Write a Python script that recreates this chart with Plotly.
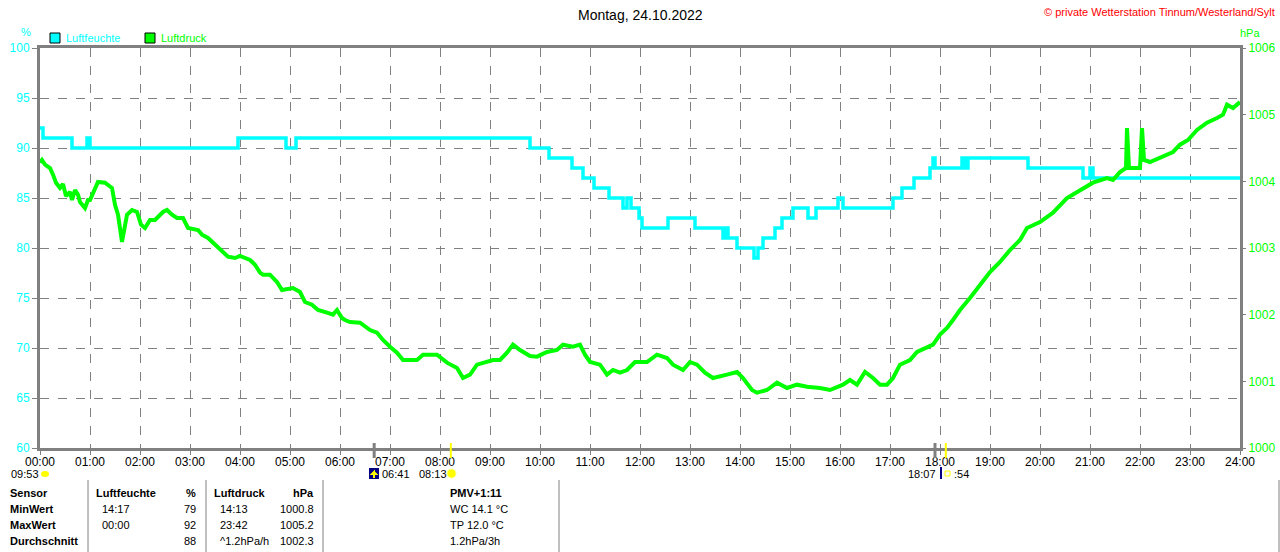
import plotly.graph_objects as go

# Luftfeuchte (%), stepped values: hour of day / value
hum_t = [0.00, 0.06, 0.64, 0.94, 1.00, 3.96, 4.92, 5.12, 9.80, 10.18, 10.64, 10.86,
         11.08, 11.38, 11.66, 11.74, 11.82, 11.98, 12.04, 12.56, 13.10, 13.66, 13.70,
         13.76, 13.94, 14.28, 14.36, 14.46, 14.70, 14.84, 15.06, 15.36, 15.52, 15.96,
         16.06, 17.06, 17.24, 17.48, 17.80, 17.86, 17.90, 18.44, 18.50, 18.56, 19.76,
         20.86, 21.00, 21.06, 24.00]
hum_v = [92, 91, 90, 91, 90, 91, 90, 91, 90, 89, 88, 87,
         86, 85, 84, 85, 84, 83, 82, 83, 82, 81, 82,
         81, 80, 79, 80, 81, 82, 83, 84, 83, 84, 85,
         84, 85, 86, 87, 88, 89, 88, 89, 88, 89, 88,
         87, 88, 87, 87]

# Luftdruck (hPa)
p_t = [0.00, 0.04, 0.10, 0.20, 0.26, 0.32, 0.40, 0.46, 0.52, 0.60, 0.64, 0.70, 0.76,
       0.80, 0.90, 0.96, 1.00, 1.10, 1.16, 1.30, 1.44, 1.50, 1.56, 1.64, 1.74, 1.84,
       1.94, 2.02, 2.10, 2.20, 2.30, 2.46, 2.54, 2.64, 2.74, 2.86, 2.96, 3.16, 3.24,
       3.36, 3.50, 3.64, 3.76, 3.90, 4.00, 4.20, 4.30, 4.40, 4.46, 4.60, 4.74, 4.84,
       5.06, 5.20, 5.30, 5.44, 5.56, 5.74, 5.86, 5.94, 6.04, 6.10, 6.20, 6.40, 6.60,
       6.74, 6.86, 7.00, 7.14, 7.26, 7.54, 7.66, 7.94, 8.14, 8.34, 8.46, 8.60, 8.74,
       8.94, 9.06, 9.20, 9.34, 9.46, 9.60, 9.80, 9.94, 10.14, 10.34, 10.46, 10.66,
       10.80, 10.90, 11.00, 11.20, 11.34, 11.46, 11.60, 11.74, 11.90, 12.14, 12.34,
       12.54, 12.66, 12.86, 13.00, 13.14, 13.30, 13.46, 13.74, 13.94, 14.06, 14.24,
       14.34, 14.54, 14.74, 14.94, 15.14, 15.34, 15.60, 15.80, 16.06, 16.20, 16.34,
       16.50, 16.66, 16.80, 16.94, 17.06, 17.20, 17.40, 17.54, 17.74, 17.86, 18.00,
       18.14, 18.26, 18.40, 18.60, 18.80, 19.00, 19.20, 19.40, 19.60, 19.74, 20.00,
       20.26, 20.54, 20.80, 21.06, 21.34, 21.46, 21.60, 21.72, 21.74, 21.78, 21.90,
       22.00, 22.04, 22.08, 22.20, 22.40, 22.66, 22.80, 22.96, 23.14, 23.34, 23.54,
       23.66, 23.74, 23.86, 24.00]
p_v = [1004.28, 1004.32, 1004.25, 1004.20, 1004.10, 1003.98, 1003.90, 1003.96, 1003.78,
       1003.84, 1003.72, 1003.87, 1003.80, 1003.69, 1003.60, 1003.72, 1003.72, 1003.87,
       1003.99, 1003.98, 1003.90, 1003.65, 1003.50, 1003.09, 1003.50, 1003.57, 1003.54,
       1003.35, 1003.30, 1003.42, 1003.42, 1003.54, 1003.57, 1003.50, 1003.45, 1003.45,
       1003.30, 1003.27, 1003.20, 1003.15, 1003.05, 1002.97, 1002.87, 1002.85, 1002.88,
       1002.82, 1002.75, 1002.63, 1002.60, 1002.60, 1002.49, 1002.37, 1002.40, 1002.34,
       1002.19, 1002.15, 1002.07, 1002.03, 1002.00, 1002.07, 1001.95, 1001.92, 1001.89,
       1001.88, 1001.77, 1001.73, 1001.62, 1001.52, 1001.43, 1001.32, 1001.32, 1001.40,
       1001.40, 1001.28, 1001.20, 1001.05, 1001.10, 1001.25, 1001.29, 1001.32, 1001.32,
       1001.43, 1001.55, 1001.47, 1001.38, 1001.37, 1001.44, 1001.47, 1001.55, 1001.52,
       1001.55, 1001.40, 1001.29, 1001.25, 1001.10, 1001.17, 1001.13, 1001.17, 1001.29,
       1001.29, 1001.40, 1001.35, 1001.25, 1001.17, 1001.29, 1001.25, 1001.13, 1001.05,
       1001.10, 1001.14, 1001.05, 1000.87, 1000.83, 1000.87, 1000.98, 1000.90, 1000.95,
       1000.92, 1000.90, 1000.87, 1000.95, 1001.02, 1000.95, 1001.14, 1001.05, 1000.95,
       1000.95, 1001.05, 1001.25, 1001.32, 1001.44, 1001.50, 1001.55, 1001.70, 1001.80,
       1001.92, 1002.07, 1002.25, 1002.45, 1002.64, 1002.79, 1002.97, 1003.12, 1003.30,
       1003.39, 1003.53, 1003.75, 1003.87, 1003.98, 1004.05, 1004.02, 1004.14, 1004.20,
       1004.80, 1004.20, 1004.20, 1004.20, 1004.80, 1004.32, 1004.29, 1004.35, 1004.44,
       1004.55, 1004.62, 1004.77, 1004.88, 1004.95, 1005.00, 1005.15, 1005.10, 1005.19]

hour_ticks = list(range(25))
hour_labels = [f"{h:02d}:00" for h in hour_ticks]
hum_ticks = [60, 65, 70, 75, 80, 85, 90, 95, 100]
p_ticks = [1000, 1001, 1002, 1003, 1004, 1005, 1006]

# Sonnenauf-/untergang (Stunden)
sunrise_civil, sunrise = 6 + 41 / 60, 8 + 13 / 60
sunset, sunset_civil = 17 + 54 / 60, 18 + 7 / 60

table_rows = ["Sensor", "MinWert", "MaxWert", "Durchschnitt"]
hum_time = ["Luftfeuchte", "14:17", "00:00", ""]
hum_val = ["%", "79", "92", "88"]
p_time = ["Luftdruck", "14:13", "23:42", "^1.2hPa/h"]
p_val = ["hPa", "1000.8", "1005.2", "1002.3"]
pmv = ["PMV+1:11", "WC 14.1 °C", "TP 12.0 °C", "1.2hPa/3h"]

CYAN = "#00FFFF"
GREEN = "#00FF00"
GRAY = "#808080"
FONT = "Liberation Sans"

W, H = 1280, 552
L, R, T, B = 40, 1240, 48, 448


def px(x):
    return (x - L) / (R - L)


def py(y):
    return (B - y) / (B - T)


fig = go.Figure()
fig.add_trace(go.Scatter(x=hum_t, y=hum_v, mode="lines", line=dict(color=CYAN, width=3.5, shape="hv"),
                         name="Luftfeuchte", hoverinfo="skip"))
fig.add_trace(go.Scatter(x=p_t, y=p_v, mode="lines", line=dict(color=GREEN, width=4),
                         name="Luftdruck", yaxis="y2", hoverinfo="skip"))

ann = []
shapes = []


def text(x, y, s, color="black", size=12, anchor="left", bold=False):
    ann.append(dict(x=px(x), y=py(y), xref="paper", yref="paper", text=f"<b>{s}</b>" if bold else s,
                    showarrow=False, xanchor=anchor, yanchor="middle",
                    font=dict(family=FONT, size=size, color=color)))


text(640, 15, "Montag, 24.10.2022", size=14, anchor="center")
text(1277, 12, "© private Wetterstation Tinnum/Westerland/Sylt", color="red", size=11, anchor="right")
text(26, 32, "%", color=CYAN, size=11, anchor="center")
text(1250, 33, "hPa", color=GREEN, size=11, anchor="center")

# Legende
for x0, col, name in [(50, CYAN, "Luftfeuchte"), (145, GREEN, "Luftdruck")]:
    shapes.append(dict(type="rect", xref="paper", yref="paper", x0=px(x0), x1=px(x0 + 10),
                       y0=py(43), y1=py(33), fillcolor=col, line=dict(color="black", width=1)))
    text(x0 + 14, 38, name, color=col, size=11)

# Sonnen-Ereignisse an der x-Achse
for t, col in [(sunrise_civil, GRAY), (sunrise, "yellow"), (sunset, GRAY), (sunset_civil, "yellow")]:
    shapes.append(dict(type="line", xref="x", yref="paper", x0=t, x1=t, y0=py(443), y1=py(458),
                       line=dict(color=col, width=3 if col == GRAY else 2)))

text(9, 474, "09:53", size=11)
shapes.append(dict(type="circle", xref="paper", yref="paper", x0=px(41), x1=px(49), y0=py(477),
                   y1=py(471), fillcolor="yellow", line=dict(width=0)))
shapes.append(dict(type="rect", xref="paper", yref="paper", x0=px(369), x1=px(379), y0=py(479),
                   y1=py(468), fillcolor="#000080", line=dict(width=0)))
shapes.append(dict(type="path", xref="paper", yref="paper",
                   path=f"M {px(374)},{py(478)} L {px(374)},{py(472)} L {px(372)},{py(474)} L {px(376)},{py(474)} L {px(374)},{py(472)}",
                   line=dict(color="yellow", width=2)))
text(380, 474, "06:41", size=11)
text(417, 474, "08:13", size=11)
shapes.append(dict(type="circle", xref="paper", yref="paper", x0=px(447), x1=px(456), y0=py(478),
                   y1=py(469), fillcolor="yellow", line=dict(color="#ffff99", width=1)))
text(938, 474, "18:07", anchor="right", size=11)
shapes.append(dict(type="rect", xref="paper", yref="paper", x0=px(940), x1=px(942), y0=py(479),
                   y1=py(467), fillcolor="#000080", line=dict(width=0)))
shapes.append(dict(type="rect", xref="paper", yref="paper", x0=px(945), x1=px(950), y0=py(476),
                   y1=py(471), fillcolor="white", line=dict(color="yellow", width=1)))
text(952, 474, ":54", size=11)

# Tabelle
row_y = [493, 509, 525, 541]
for i, y in enumerate(row_y):
    bold = i == 0
    text(8, y, table_rows[i], bold=True, size=11)
    text(94 if bold else 100, y, hum_time[i], bold=bold, size=11)
    text(198, y, hum_val[i], bold=bold, size=11, anchor="right")
    text(212 if bold else 218, y, p_time[i], bold=bold, size=11)
    text(316, y, p_val[i], bold=bold, size=11, anchor="right")
    text(448, y, pmv[i], bold=bold, size=11)
for x in [88, 206, 323, 559, 1279]:
    shapes.append(dict(type="line", xref="paper", yref="paper", x0=px(x), x1=px(x), y0=py(480),
                       y1=py(552), line=dict(color=GRAY, width=1)))

fig.update_layout(
    width=W, height=H,
    margin=dict(l=L, r=W - R, t=T, b=H - B, autoexpand=False),
    paper_bgcolor="white", plot_bgcolor="white",
    showlegend=False,
    annotations=ann, shapes=shapes,
    xaxis=dict(range=[0, 24], tickvals=hour_ticks, ticktext=hour_labels, showgrid=True,
               gridcolor=GRAY, griddash="dash", gridwidth=1, showline=True, linecolor=GRAY,
               linewidth=3, mirror=True, ticks="outside", ticklen=4, tickcolor=GRAY,
               ticklabelstandoff=-3, automargin=False,
               tickfont=dict(family=FONT, size=12, color="black"), zeroline=False),
    yaxis=dict(range=[60, 100], tickvals=hum_ticks, showgrid=True, gridcolor=GRAY, griddash="dash",
               gridwidth=1, showline=True, linecolor=GRAY, linewidth=3, mirror=True,
               ticks="outside", ticklen=5, tickcolor=GRAY, automargin=False,
               tickfont=dict(family=FONT, size=12, color=CYAN), zeroline=False),
    yaxis2=dict(range=[1000, 1006], tickvals=p_ticks, overlaying="y", side="right", showgrid=False,
                ticks="outside", ticklen=5, tickcolor=GRAY, showline=False, automargin=False,
                tickfont=dict(family=FONT, size=12, color=GREEN), zeroline=False),
)

fig.write_html("out.html", config={"displayModeBar": False},
               post_script="document.body.style.margin='0px';")
